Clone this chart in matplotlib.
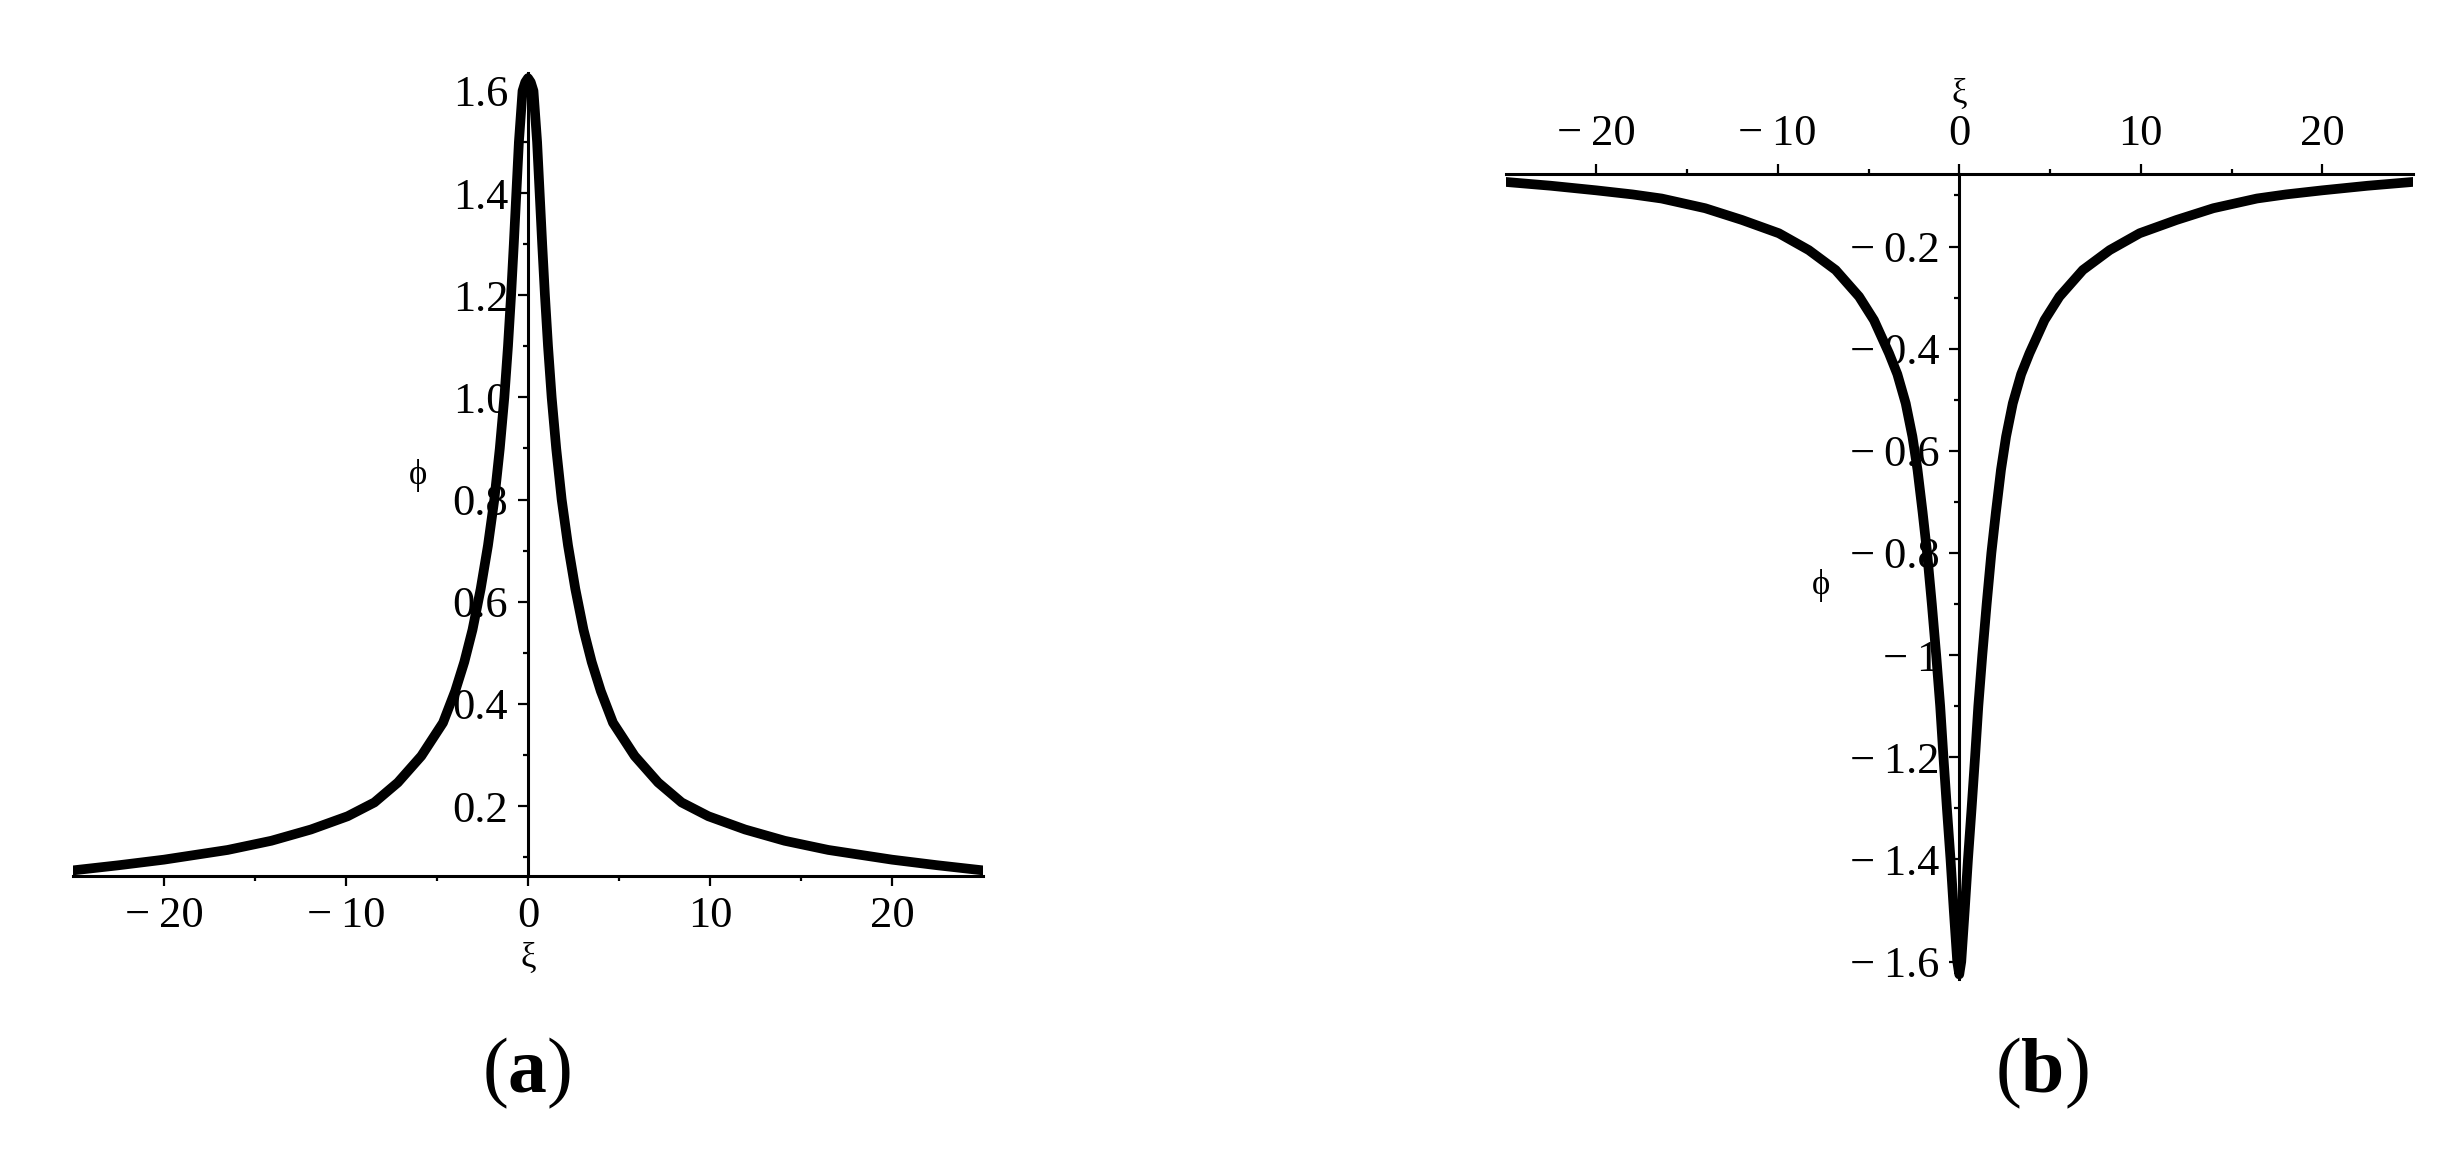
import numpy as np
import matplotlib.pyplot as plt
from matplotlib.ticker import FixedLocator

plt.rcParams['font.family'] = ['Liberation Serif', 'DejaVu Serif']
plt.rcParams['mathtext.fontset'] = 'custom'
plt.rcParams['mathtext.rm'] = 'Liberation Serif'
plt.rcParams['mathtext.bf'] = 'Liberation Serif:bold'

# (a) bright peak (xi >= 0, curve is symmetric)
xi_a = [0, 0.15, 0.3, 0.5, 0.64, 0.78, 0.93, 1.1, 1.3, 1.55, 1.85, 2.2, 2.6,
        3.05, 3.5, 4.0, 4.67, 5.86, 7.15, 8.44, 9.91, 11.93, 14.1, 16.5,
        20, 22.5, 25]
phi_a = [1.625, 1.617, 1.6, 1.5, 1.4, 1.3, 1.2, 1.1, 1.0, 0.9, 0.8, 0.71, 0.625,
         0.545, 0.482, 0.425, 0.363, 0.298, 0.246, 0.207, 0.180, 0.154, 0.132, 0.114,
         0.095, 0.084, 0.074]

# (b) dark dip
xi_b = [0, 0.11, 0.30, 0.48, 0.68, 0.87, 1.05, 1.27, 1.51, 1.77, 2.02, 2.30, 2.58,
        2.95, 3.41, 3.87, 4.70, 5.52, 6.81, 8.29, 9.94, 11.97, 14.0, 16.4,
        18, 20, 22.5, 25]
phi_b = [-1.625, -1.6, -1.5, -1.4, -1.3, -1.2, -1.1, -1.0, -0.9, -0.8, -0.72, -0.637, -0.572,
         -0.507, -0.45, -0.409, -0.344, -0.298, -0.246, -0.207, -0.174, -0.148, -0.125, -0.106,
         -0.098, -0.090, -0.081, -0.0735]

xticks = [-20, -10, 0, 10, 20]
xlabels = ['\u2212\u200920', '\u2212\u200910', '0', '10', '20']
xminor = [-15, -5, 5, 15]
yticks_a = [0.2, 0.4, 0.6, 0.8, 1.0, 1.2, 1.4, 1.6]
ylabels_a = ['0.2', '0.4', '0.6', '0.8', '1.0', '1.2', '1.4', '1.6']
yminor_a = [0.1, 0.3, 0.5, 0.7, 0.9, 1.1, 1.3, 1.5]
yticks_b = [-0.2, -0.4, -0.6, -0.8, -1.0, -1.2, -1.4, -1.6]
ylabels_b = ['\u2212\u20090.2', '\u2212\u20090.4', '\u2212\u20090.6', '\u2212\u20090.8',
             '\u2212\u20091', '\u2212\u20091.2', '\u2212\u20091.4', '\u2212\u20091.6']
yminor_b = [-0.1, -0.3, -0.5, -0.7, -0.9, -1.1, -1.3, -1.5]


def full(x, y):
    # mirror the xi >= 0 readings onto the left half
    x = np.asarray(x, float)
    y = np.asarray(y, float)
    return np.concatenate([-x[::-1], x[1:]]), np.concatenate([y[::-1], y[1:]])


W, H = 2461, 1151
fig = plt.figure(figsize=(W / 100, H / 100), dpi=100)

ax1 = fig.add_axes([73 / W, 1 - 876 / H, 910 / W, 803 / H])
ax2 = fig.add_axes([1505.5 / W, 1 - 979.5 / H, 907.5 / W, 805.5 / H])

x, y = full(xi_a, phi_a)
ax1.plot(x, y, color='black', lw=7, solid_joinstyle='round', zorder=3)
ax1.set_xlim(-25, 25)
ax1.set_ylim(0.063, 1.635)

x, y = full(xi_b, phi_b)
ax2.plot(x, y, color='black', lw=7, solid_joinstyle='round', zorder=3)
ax2.set_xlim(-25, 25)
ax2.set_ylim(-1.635, -0.058)

for ax in (ax1, ax2):
    ax.spines['right'].set_visible(False)
    ax.spines['left'].set_position(('data', 0))
    for s in ax.spines.values():
        s.set_linewidth(2.2)
    ax.set_xticks(xticks)
    ax.set_xticklabels(xlabels)
    ax.xaxis.set_minor_locator(FixedLocator(xminor))
    ax.tick_params(which='major', length=7.2, width=1.6, labelsize=32, pad=7, direction='out')
    ax.tick_params(which='minor', length=3.6, width=1.6, direction='out')
    ax.patch.set_visible(False)

ax1.spines['top'].set_visible(False)
ax1.set_yticks(yticks_a)
ax1.set_yticklabels(ylabels_a)
ax1.yaxis.set_minor_locator(FixedLocator(yminor_a))

ax2.spines['bottom'].set_visible(False)
ax2.xaxis.set_ticks_position('top')
ax2.xaxis.set_label_position('top')
ax2.set_yticks(yticks_b)
ax2.set_yticklabels(ylabels_b)
ax2.yaxis.set_minor_locator(FixedLocator(yminor_b))

# axis names
fig.text(528 / W, 1 - 958 / H, '\u03be', fontsize=25, ha='center', va='center')
fig.text(418 / W, 1 - 475 / H, '\u03d5', fontsize=25, ha='center', va='center')
fig.text(1959 / W, 1 - 94 / H, '\u03be', fontsize=25, ha='center', va='center')
fig.text(1821 / W, 1 - 586 / H, '\u03d5', fontsize=25, ha='center', va='center')

# panel labels
fig.text(527 / W, 1 - 1073 / H, r'$(\mathbf{a})$', fontsize=56, ha='center', va='center')
fig.text(2042 / W, 1 - 1073 / H, r'$(\mathbf{b})$', fontsize=56, ha='center', va='center')

fig.savefig('out.png', dpi=100, facecolor='white')
